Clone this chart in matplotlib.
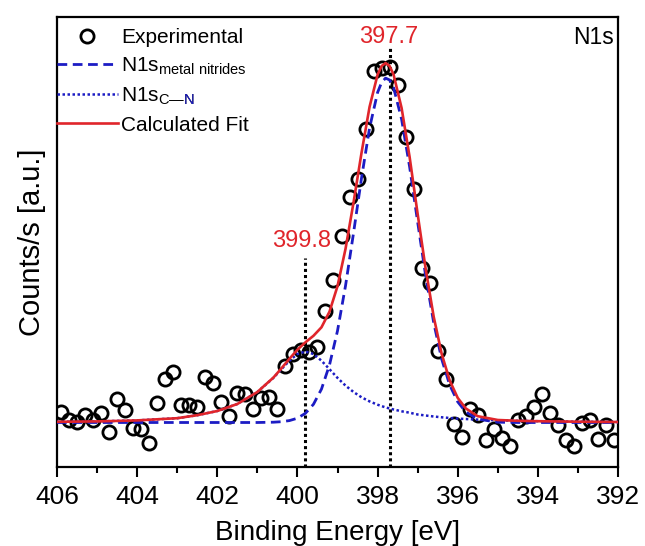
import numpy as np
import matplotlib
matplotlib.use("Agg")
import matplotlib.pyplot as plt
from matplotlib.transforms import Bbox, IdentityTransform

plt.rcParams["font.family"] = ["Liberation Sans", "DejaVu Sans"]
plt.rcParams["mathtext.fontset"] = "custom"
plt.rcParams["mathtext.rm"] = "Liberation Sans"
plt.rcParams["mathtext.it"] = "Liberation Sans:italic"

# N1s spectrum, 0.2 eV steps
energy = [405.9, 405.7, 405.5, 405.3, 405.1, 404.9, 404.7, 404.5, 404.3, 404.1,
          403.9, 403.7, 403.5, 403.3, 403.1, 402.9, 402.7, 402.5, 402.3, 402.1,
          401.9, 401.7, 401.5, 401.3, 401.1, 400.9, 400.7, 400.5, 400.3, 400.1,
          399.9, 399.7, 399.5, 399.3, 399.1, 398.9, 398.7, 398.5, 398.3, 398.1,
          397.9, 397.7, 397.5, 397.3, 397.1, 396.9, 396.7, 396.5, 396.3, 396.1,
          395.9, 395.7, 395.5, 395.3, 395.1, 394.9, 394.7, 394.5, 394.3, 394.1,
          393.9, 393.7, 393.5, 393.3, 393.1, 392.9, 392.7, 392.5, 392.3, 392.1]
counts = [553, 470, 453, 520, 470, 543, 353, 677, 570, 387,
          377, 237, 643, 877, 953, 620, 620, 597, 903, 843,
          653, 510, 743, 730, 577, 687, 703, 577, 1007, 1135,
          1175, 1153, 1200, 1563, 1870, 2310, 2703, 2877, 3377, 3963,
          3987, 3997, 3820, 3303, 2777, 1987, 1843, 1165, 880, 430,
          300, 580, 520, 275, 377, 287, 210, 473, 507, 600,
          730, 543, 420, 270, 207, 440, 473, 280, 420, 275]

# fitted components
fit_energy = [406, 405, 404, 403, 402.5, 402, 401.5, 401, 400.6, 400.4,
              400.2, 400.0, 399.8, 399.6, 399.4, 399.2, 399.0, 398.8, 398.6, 398.4,
              398.2, 398.0, 397.9, 397.8, 397.7, 397.6, 397.4, 397.2, 397.0, 396.8,
              396.6, 396.4, 396.2, 396.0, 395.8, 395.5, 395.0, 394.5, 394, 393, 392]
nitride = [445, 445, 445, 445, 445, 445, 445, 445, 448, 453,
           464, 488, 537, 627, 779, 1020, 1362, 1812, 2340, 2891,
           3390, 3745, 3845, 3889, 3870, 3793, 3477, 3001, 2450, 1912,
           1444, 1079, 820, 652, 551, 479, 448, 445, 445, 445, 445]
c_n = [452, 456, 466, 488, 518, 560, 630, 750, 891, 978,
       1063, 1130, 1155, 1130, 1063, 978, 891, 814, 750, 697,
       656, 623, 609, 596, 585, 575, 557, 543, 525, 515,
       505, 497, 490, 484, 480, 474, 467, 462, 458, 453, 450]
fit_total = [452, 456, 466, 488, 518, 560, 630, 750, 894, 986,
             1082, 1173, 1247, 1312, 1397, 1553, 1808, 2181, 2645, 3143,
             3601, 3923, 4009, 4040, 4010, 3923, 3589, 3099, 2530, 1982,
             1504, 1131, 865, 691, 586, 508, 470, 462, 458, 453, 450]

peaks = [397.7, 399.8]
peak_line_top = [4190, 2090]
peak_label_x = [397.72, 399.9]
peak_label_y = [4300, 2260]

red = "#e0252b"
blue = "#1c1cc4"

fig = plt.figure(figsize=(6.45, 5.46), dpi=100)
ax = fig.add_axes([57 / 645, 1 - 467 / 546, 561 / 645, 450 / 546])

ax.plot(energy, counts, "o", ms=9.5, mfc="none", mec="black", mew=2.0,
        label="Experimental", zorder=3)
ax.plot(fit_energy, nitride, ls=(0, (3.5, 2)), color=blue, lw=2.0,
        label=r"N1s$_{\mathrm{metal\ nitrides}}$", zorder=4)
ax.plot(fit_energy, c_n, ls=(0, (1, 1)), color=blue, lw=1.8,
        label=r"N1s$_{\mathrm{C—N}}$", zorder=4)
ax.plot(fit_energy, fit_total, "-", color=red, lw=1.9,
        label="Calculated Fit", zorder=5)

for e, top, lx, ly in zip(peaks, peak_line_top, peak_label_x, peak_label_y):
    ax.vlines(e, 0, top, colors="black", linestyles=(0, (1, 1)), lw=2.2, zorder=2)
    ax.text(lx, ly, f"{e:.1f}", color=red, fontsize=17, ha="center", va="center")

ax.text(0.992, 0.955, "N1s", transform=ax.transAxes, fontsize=16.5,
        ha="right", va="center")

ax.set_xlim(406, 392)
ax.set_ylim(0, 4500)
ax.set_xticks([406, 404, 402, 400, 398, 396, 394, 392])
ax.set_xticks([405, 403, 401, 399, 397, 395, 393], minor=True)
ax.set_yticks([])
ax.tick_params(axis="x", which="major", direction="out", length=7, width=1.5,
               labelsize=19, pad=6)
ax.tick_params(axis="x", which="minor", direction="out", length=4, width=1.5)
for s in ax.spines.values():
    s.set_linewidth(1.6)

ax.set_xlabel("Binding Energy [eV]", fontsize=20, labelpad=8)
ax.set_ylabel("Counts/s [a.u.]", fontsize=21, labelpad=8)

leg = ax.legend(loc="upper left", bbox_to_anchor=(-0.007, 0.985), frameon=False,
                fontsize=15, handlelength=2.9, handletextpad=0.15,
                borderaxespad=0.0, borderpad=0.2, labelspacing=0.42)

# the N in the C—N subscript is blue: overlay a clipped blue copy
fig.canvas.draw()
t = leg.get_texts()[2]
bb = t.get_window_extent()
r = fig.canvas.get_renderer()
probe = fig.text(0, 0, r"N1s$_{\mathrm{C—}}$", fontsize=15)
w_prefix = probe.get_window_extent(renderer=r).width
probe.remove()
blue_n = fig.text(bb.x0, bb.y0, r"N1s$_{\mathrm{C—N}}$", fontsize=15,
                  color=blue, ha="left", va="bottom", transform=IdentityTransform())
blue_n.set_clip_box(Bbox.from_extents(bb.x0 + w_prefix, bb.y0 - 3, bb.x1 + 3, bb.y1 + 3))
blue_n.set_clip_on(True)

fig.savefig("out.png", dpi=100)
